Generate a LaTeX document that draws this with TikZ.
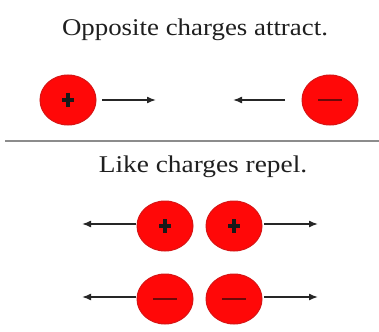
\documentclass[tikz,border=0pt]{standalone}
\usepackage{fontspec}
\setmainfont{Liberation Serif}
\usetikzlibrary{arrows.meta,calc,shapes.geometric}
\definecolor{chargered}{RGB}{255,8,8}
\definecolor{rimred}{RGB}{215,20,20}
\definecolor{minuscol}{RGB}{110,8,8}
\tikzset{
  charge/.style={ellipse, minimum width=56pt, minimum height=50pt, fill=chargered, draw=rimred, line width=1pt, inner sep=0pt},
  force/.style={line width=1.5pt, draw=black!85, -{Latex[length=9pt,width=7pt]}},
  plussign/.style={line width=3.2pt, draw=black!90},
  minussign/.style={line width=2.6pt, draw=minuscol},
  title/.style={font=\fontsize{24}{26}\selectfont, text=black!88, anchor=base, inner sep=0pt}
}
\begin{document}
\begin{tikzpicture}[x=1pt,y=-1pt]
\useasboundingbox (0,0) rectangle (379,331);
\fill[white] (0,0) rectangle (379,331);
\node[title] (t1) at (195,36) {\scalebox{1.12}[1]{Opposite charges attract.}};
\node[title] (t2) at (203,172) {\scalebox{1.14}[1]{Like charges repel.}};
\draw[line width=2.5pt, draw=black!45] (5,141) -- (379,141);
% top row
\node[charge] (p1) at (68,100) {};
\node[charge] (m1) at (330,100) {};
\coordinate (a1s) at (102,100); \coordinate (a1e) at (156,100);
\coordinate (a2s) at (285,100); \coordinate (a2e) at (233,100);
\draw[force] (a1s) -- (a1e);
\draw[force] (a2s) -- (a2e);
\draw[plussign] ($(p1)+(-6,0)$) -- ($(p1)+(6,0)$) ($(p1)+(0,-7)$) -- ($(p1)+(0,7)$);
\draw[minussign] ($(m1)+(-12,0)$) -- ($(m1)+(12,0)$);
% middle row
\node[charge] (p2) at (165,226) {};
\node[charge] (p3) at (234,226) {};
\coordinate (b1s) at (136,224); \coordinate (b1e) at (82,224);
\coordinate (b2s) at (264,224); \coordinate (b2e) at (318,224);
\draw[force] (b1s) -- (b1e);
\draw[force] (b2s) -- (b2e);
\draw[plussign] ($(p2)+(-6,0)$) -- ($(p2)+(6,0)$) ($(p2)+(0,-7)$) -- ($(p2)+(0,7)$);
\draw[plussign] ($(p3)+(-6,0)$) -- ($(p3)+(6,0)$) ($(p3)+(0,-7)$) -- ($(p3)+(0,7)$);
% bottom row
\node[charge] (m2) at (165,299) {};
\node[charge] (m3) at (234,299) {};
\coordinate (c1s) at (136,297); \coordinate (c1e) at (82,297);
\coordinate (c2s) at (264,297); \coordinate (c2e) at (318,297);
\draw[force] (c1s) -- (c1e);
\draw[force] (c2s) -- (c2e);
\draw[minussign] ($(m2)+(-12,0)$) -- ($(m2)+(12,0)$);
\draw[minussign] ($(m3)+(-12,0)$) -- ($(m3)+(12,0)$);
\end{tikzpicture}
\end{document}
